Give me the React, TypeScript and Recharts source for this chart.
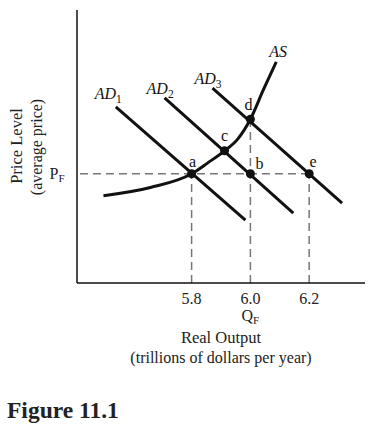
import {
  ComposedChart,
  Line,
  Scatter,
  XAxis,
  YAxis,
  ReferenceLine,
  ReferenceDot,
  LabelList,
} from "recharts";

// price level index (0 = axis bottom, 100 = axis top), real output in trillions
const PF = 40;
const QF = 6.0;
const outputTicks = [5.8, 6.0, 6.2];

const AS = [
  { q: 5.5, p: 32 },
  { q: 5.66, p: 35 },
  { q: 5.8, p: 40 },
  { q: 5.855, p: 44 },
  { q: 5.912, p: 48.4 },
  { q: 5.956, p: 52.6 },
  { q: 6.0, p: 60 },
  { q: 6.044, p: 70.7 },
  { q: 6.088, p: 81 },
];

const AD1 = [
  { q: 5.542, p: 64.5 },
  { q: 5.983, p: 23 },
];
const AD2 = [
  { q: 5.708, p: 67.8 },
  { q: 6.146, p: 25.6 },
];
const AD3 = [
  { q: 5.871, p: 71.4 },
  { q: 6.312, p: 29.3 },
];

const points = [
  { name: "a", q: 5.8, p: 40 },
  { name: "b", q: 6.0, p: 40 },
  { name: "c", q: 5.912, p: 48.4 },
  { name: "d", q: 6.0, p: 60 },
  { name: "e", q: 6.2, p: 40 },
];

const serif = "'Liberation Serif', 'Times New Roman', serif";

// label offsets in pixels
const pointLabelOffset: Record<string, [number, number]> = {
  a: [1, -7],
  b: [9, -5],
  c: [0, -10],
  d: [-2, -9],
  e: [4, -7],
};

const curveLabel = (main: string, sub: string, dx: number, dy: number) =>
  (props: any) => (
    <text
      x={props.cx + dx}
      y={props.cy + dy}
      fontFamily={serif}
      fontSize={16}
      fill="#111"
    >
      <tspan fontStyle="italic">{main}</tspan>
      {sub ? (
        <tspan fontSize={11.5} dy={4}>
          {sub}
        </tspan>
      ) : null}
    </text>
  );

const XTick = (props: any) => {
  const { x, y, payload } = props;
  return (
    <g>
      <text x={x} y={y + 13} textAnchor="middle" fontFamily={serif} fontSize={16} fill="#222">
        {payload.value.toFixed(1)}
      </text>
      {payload.value === QF ? (
        <text x={x} y={y + 30} textAnchor="middle" fontFamily={serif} fontSize={16} fill="#222">
          Q
          <tspan fontSize={11} dy={3}>
            F
          </tspan>
        </text>
      ) : null}
    </g>
  );
};

const YTick = (props: any) => {
  const { x, y } = props;
  return (
    <text x={x - 12} y={y + 5} textAnchor="middle" fontFamily={serif} fontSize={16} fill="#222">
      P
      <tspan fontSize={11} dy={3}>
        F
      </tspan>
    </text>
  );
};

export default function App() {
  const dash = { stroke: "#777", strokeWidth: 1.5, strokeDasharray: "8 5" };
  return (
    <div style={{ position: "absolute", left: 0, top: 0, width: 375, height: 433, background: "#fff" }}>
      <ComposedChart
        width={375}
        height={433}
        margin={{ top: 10, right: 10, left: 0, bottom: 120 }}
      >
        <XAxis
          dataKey="q"
          type="number"
          domain={[5.41, 6.39]}
          ticks={outputTicks}
          tickLine={false}
          tick={<XTick />}
          height={30}
          allowDataOverflow
          axisLine={{ stroke: "#111", strokeWidth: 1.5 }}
        />
        <YAxis
          dataKey="p"
          type="number"
          domain={[0, 100]}
          ticks={[PF]}
          width={77}
          tickLine={false}
          tick={<YTick />}
          allowDataOverflow
          axisLine={{ stroke: "#111", strokeWidth: 1.5 }}
        />
        <ReferenceLine segment={[{ x: 5.42, y: PF }, { x: 6.2, y: PF }]} {...dash} ifOverflow="visible" />
        {outputTicks.map((q) => (
          <ReferenceLine
            key={q}
            segment={[{ x: q, y: 0 }, { x: q, y: q === QF ? 60 : PF }]}
            {...dash}
            ifOverflow="visible"
          />
        ))}
        <Line data={AD1} dataKey="p" type="linear" stroke="#111" strokeWidth={3} dot={false} isAnimationActive={false} />
        <Line data={AD2} dataKey="p" type="linear" stroke="#111" strokeWidth={3} dot={false} isAnimationActive={false} />
        <Line data={AD3} dataKey="p" type="linear" stroke="#111" strokeWidth={3} dot={false} isAnimationActive={false} />
        <Line data={AS} dataKey="p" type="monotone" stroke="#111" strokeWidth={3} dot={false} isAnimationActive={false} />
        <Scatter data={points} dataKey="p" fill="#111" isAnimationActive={false} shape={(p: any) => <circle cx={p.cx} cy={p.cy} r={4.5} fill="#111" />}>
          <LabelList
            dataKey="name"
            content={(props: any) => {
              const off = pointLabelOffset[props.value] || [0, -8];
              return (
                <text
                  x={props.x + props.width / 2 + off[0]}
                  y={props.y + props.height / 2 + off[1]}
                  textAnchor="middle"
                  fontFamily={serif}
                  fontSize={16}
                  fill="#111"
                >
                  {props.value}
                </text>
              );
            }}
          />
        </Scatter>
        <ReferenceDot x={AD1[0].q} y={AD1[0].p} ifOverflow="visible" shape={curveLabel("AD", "1", -21, -8)} />
        <ReferenceDot x={AD2[0].q} y={AD2[0].p} ifOverflow="visible" shape={curveLabel("AD", "2", -18, -4)} />
        <ReferenceDot x={AD3[0].q} y={AD3[0].p} ifOverflow="visible" shape={curveLabel("AD", "3", -18, -4)} />
        <ReferenceDot
          x={AS[AS.length - 1].q}
          y={AS[AS.length - 1].p}
          ifOverflow="visible"
          shape={curveLabel("AS", "", -7, -5)}
        />
      </ComposedChart>
      <svg width={375} height={433} style={{ position: "absolute", left: 0, top: 0, pointerEvents: "none" }}>
        <text
          transform="translate(16,146) rotate(-90)"
          textAnchor="middle"
          dominantBaseline="central"
          fontFamily={serif}
          fontSize={16.5}
          fill="#222"
        >
          Price Level
        </text>
        <text
          transform="translate(36,147) rotate(-90)"
          textAnchor="middle"
          dominantBaseline="central"
          fontFamily={serif}
          fontSize={16}
          fill="#222"
        >
          (average price)
        </text>
        <text x={221} y={343} textAnchor="middle" fontFamily={serif} fontSize={16.5} fill="#222">
          Real Output
        </text>
        <text x={221} y={363} textAnchor="middle" fontFamily={serif} fontSize={16} fill="#222">
          (trillions of dollars per year)
        </text>
        <text x={7} y={418} fontFamily={serif} fontSize={23.5} fontWeight="bold" fill="#222">
          Figure 11.1
        </text>
      </svg>
    </div>
  );
}
